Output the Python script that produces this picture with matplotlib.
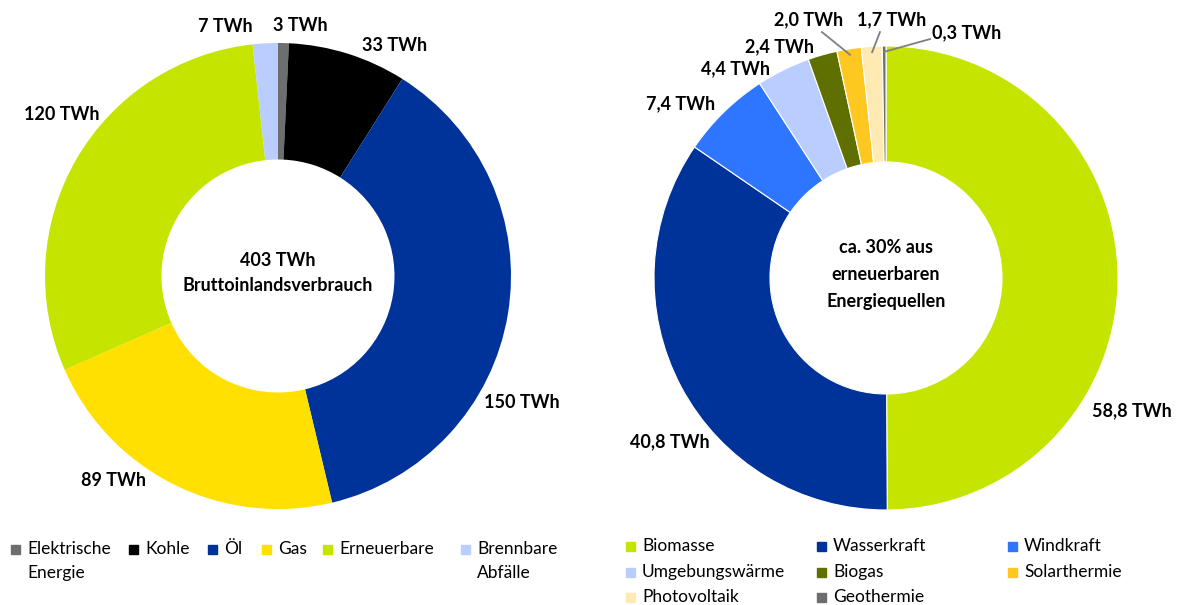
import numpy as np
import matplotlib
matplotlib.use('Agg')
import matplotlib.pyplot as plt
from matplotlib.patches import Rectangle

plt.rcParams['font.family'] = ['Lato', 'DejaVu Sans']

# left donut: gross domestic consumption
left_labels = ['Elektrische\nEnergie', 'Kohle', 'Öl', 'Gas', 'Erneuerbare', 'Brennbare\nAbfälle']
left_values = [3, 33, 150, 89, 120, 7]
left_colors = ['#6E6E6E', '#000000', '#003399', '#FFE000', '#C5E500', '#B9CDFF']

# right donut: renewables
right_labels = ['Biomasse', 'Wasserkraft', 'Windkraft', 'Umgebungswärme', 'Biogas',
                'Solarthermie', 'Photovoltaik', 'Geothermie']
right_values = [58.8, 40.8, 7.4, 4.4, 2.4, 2.0, 1.7, 0.3]
right_colors = ['#C5E500', '#003399', '#2E75FF', '#B9CDFF', '#5F7000',
                '#FFC821', '#FFEAB4', '#6E6E6E']

W, H = 1179, 605
fig = plt.figure(figsize=(W / 100, H / 100), dpi=100)


def donut_axes(cx, cy, r):
    return fig.add_axes([(cx - r) / W, (H - cy - r) / H, 2 * r / W, 2 * r / H])


def draw_donut(ax, values, colors, edge):
    ax.pie(values, colors=colors, startangle=90, counterclock=False, radius=1,
           wedgeprops=dict(width=0.5, edgecolor=edge, linewidth=0.8 if edge == 'white' else 0))
    ax.set_xlim(-1, 1)
    ax.set_ylim(-1, 1)
    ax.set_aspect('equal')
    ax.axis('off')


def mid_angles(values):
    cum = np.cumsum([0] + list(values))
    tot = cum[-1]
    mids = (cum[:-1] + cum[1:]) / 2 / tot * 360
    return np.deg2rad(90 - mids)


FS = 13
lbl_kw = dict(ha='center', va='center', fontsize=FS, fontweight='bold', clip_on=False)

# ---- left
ax1 = donut_axes(278, 276, 233)
draw_donut(ax1, left_values, left_colors, None)
left_pos = [(0.094, 1.077), (0.502, 0.991), (1.047, -0.545), (-0.708, -0.876),
            (-0.927, 0.691), (-0.227, 1.069)]
for v, (x, y) in zip(left_values, left_pos):
    ax1.text(x, y, f'{v} TWh', **lbl_kw)
ax1.text(0, 0.065, '403 TWh', **lbl_kw)
ax1.text(0, -0.04, 'Bruttoinlandsverbrauch', **lbl_kw)

# ---- right
ax2 = donut_axes(886, 278, 232)
draw_donut(ax2, right_values, right_colors, 'white')
right_pos = [(1.06, -0.573), (-0.931, -0.707), (-0.884, 0.75), (-0.647, 0.901),
             (-0.461, 0.996), (-0.332, 1.112), (0.026, 1.112), (0.2, 1.056)]
ang = mid_angles(right_values)
for i, (v, (x, y)) in enumerate(zip(right_values, right_pos)):
    txt = f'{v:.1f}'.replace('.', ',') + ' TWh'
    if i == 7:
        ax2.text(x, y, txt, ha='left', va='center', fontsize=FS, fontweight='bold', clip_on=False)
    else:
        ax2.text(x, y, txt, **lbl_kw)
# leader lines for the thin slices
leader_start = {5: (-0.276, 1.06), 6: (-0.026, 1.06), 7: (0.19, 1.03)}
for i, (sx, sy) in leader_start.items():
    ex, ey = 0.975 * np.cos(ang[i]), 0.975 * np.sin(ang[i])
    ax2.plot([sx, ex], [sy, ey], color='#7F7F7F', lw=1.3, clip_on=False)
ax2.text(0, 0.13, 'ca. 30% aus', **lbl_kw)
ax2.text(0, 0.013, 'erneuerbaren', **lbl_kw)
ax2.text(0, -0.103, 'Energiequellen', **lbl_kw)


# ---- legends
def legend_entry(x, y, color, label, line_gap=24):
    fig.add_artist(Rectangle((x / W, (H - y - 4.5) / H), 8.5 / W, 9 / H,
                             transform=fig.transFigure, color=color))
    for k, line in enumerate(label.split('\n')):
        fig.text((x + 16) / W, (H - y - k * line_gap) / H, line,
                 ha='left', va='center', fontsize=12.5)


left_x = [11, 129, 208, 262, 323, 461]
for x, c, lab in zip(left_x, left_colors, left_labels):
    legend_entry(x, 549, c, lab)

col_x = [626, 817, 1008]
row_y = [546, 572, 597]
for i, (c, lab) in enumerate(zip(right_colors, right_labels)):
    legend_entry(col_x[i % 3], row_y[i // 3], c, lab)

fig.savefig('out.png', dpi=100)
